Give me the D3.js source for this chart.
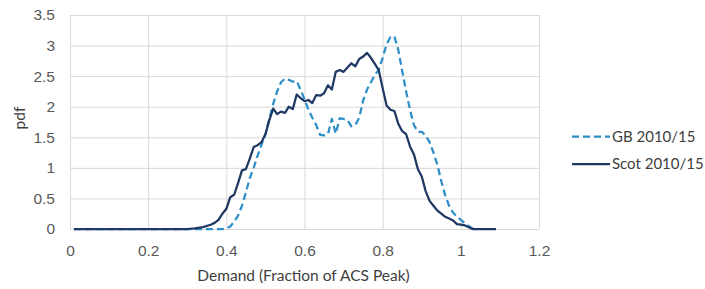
<!DOCTYPE html>
<html>
<head>
<meta charset="utf-8">
<script src="https://cdn.jsdelivr.net/npm/d3@7"></script>
<style>
  body { margin: 0; background: #fff; }
  svg { display: block; font-family: Lato, "Open Sans", sans-serif; }
  .tick text { fill: #595959; font-size: 15.5px; }
  .axis-label { fill: #404040; font-size: 15.5px; }
  .legend-text { fill: #404040; font-size: 15px; }
</style>
</head>
<body>
<svg width="705" height="289"></svg>
<script>
// Tick values
const xTicks = [0, 0.2, 0.4, 0.6, 0.8, 1, 1.2];
const yTicks = [0, 0.5, 1, 1.5, 2, 2.5, 3, 3.5];

// GB 2010/15 (dashed)
const gbX = [0.01, 0.39, 0.40, 0.41, 0.42, 0.43, 0.44, 0.45, 0.46, 0.47, 0.48, 0.49,
  0.50, 0.51, 0.52, 0.53, 0.54, 0.55, 0.56, 0.57, 0.58, 0.59,
  0.60, 0.61, 0.62, 0.63, 0.64, 0.65, 0.66, 0.67, 0.68, 0.69,
  0.70, 0.71, 0.72, 0.73, 0.74, 0.75, 0.76, 0.77, 0.78, 0.79,
  0.80, 0.81, 0.82, 0.83, 0.84, 0.85, 0.86, 0.87, 0.88, 0.89,
  0.90, 0.91, 0.92, 0.93, 0.94, 0.95, 0.96, 0.97, 0.98, 0.99,
  1.00, 1.01, 1.02, 1.03, 1.04];
const gbY = [0, 0, 0.01, 0.04, 0.12, 0.22, 0.38, 0.60, 0.83, 1.00, 1.20, 1.38,
  1.55, 1.80, 2.05, 2.25, 2.40, 2.46, 2.44, 2.41, 2.42, 2.28,
  2.12, 1.95, 1.82, 1.70, 1.54, 1.53, 1.55, 1.80, 1.56, 1.81,
  1.80, 1.78, 1.68, 1.70, 1.82, 2.10, 2.28, 2.40, 2.52, 2.60,
  2.80, 3.02, 3.14, 3.15, 2.93, 2.58, 2.25, 1.95, 1.70, 1.59,
  1.59, 1.53, 1.42, 1.25, 1.05, 0.78, 0.55, 0.38, 0.27, 0.20,
  0.15, 0.10, 0.05, 0.01, 0];

// Scot 2010/15 (solid)
const scotX = [0.01, 0.30, 0.32, 0.34, 0.36, 0.37, 0.38, 0.39,
  0.40, 0.41, 0.42, 0.43, 0.44, 0.45, 0.46, 0.47, 0.48, 0.49,
  0.50, 0.51, 0.52, 0.53, 0.54, 0.55, 0.56, 0.57, 0.58, 0.59,
  0.60, 0.61, 0.62, 0.63, 0.64, 0.65, 0.66, 0.67, 0.68, 0.69,
  0.70, 0.71, 0.72, 0.73, 0.74, 0.75, 0.76, 0.77, 0.78, 0.79,
  0.80, 0.81, 0.82, 0.83, 0.84, 0.85, 0.86, 0.87, 0.88, 0.89,
  0.90, 0.91, 0.92, 0.93, 0.94, 0.95, 0.96, 0.97, 0.98, 0.99,
  1.00, 1.01, 1.02, 1.03, 1.09];
const scotY = [0, 0, 0.01, 0.03, 0.07, 0.10, 0.15, 0.25,
  0.33, 0.52, 0.56, 0.75, 0.96, 0.98, 1.15, 1.34, 1.37, 1.42,
  1.55, 1.78, 1.97, 1.88, 1.92, 1.90, 2.00, 1.96, 2.20, 2.14,
  2.09, 2.11, 2.06, 2.19, 2.18, 2.22, 2.35, 2.28, 2.57, 2.60,
  2.57, 2.64, 2.71, 2.66, 2.78, 2.82, 2.88, 2.80, 2.70, 2.60,
  2.30, 2.02, 1.95, 1.93, 1.72, 1.60, 1.55, 1.35, 1.22, 0.98,
  0.86, 0.62, 0.46, 0.38, 0.30, 0.25, 0.20, 0.17, 0.14, 0.08,
  0.07, 0.06, 0.03, 0, 0];

const seriesNames = ["GB 2010/15", "Scot 2010/15"];
const seriesColors = ["#2e8fc8", "#1f3864"];

const svg = d3.select("svg");
const margin = { top: 15, right: 166, bottom: 60, left: 70 };
const width = 705 - margin.left - margin.right;
const height = 289 - margin.top - margin.bottom;

const g = svg.append("g").attr("transform", `translate(${margin.left},${margin.top})`);

const x = d3.scaleLinear().domain([0, 1.2]).range([0, width]);
const y = d3.scaleLinear().domain([0, 3.5]).range([height, 0]);

const fmt = d => String(+d.toFixed(1));

// Gridlines + axes
const xAxis = g.append("g")
  .attr("transform", `translate(0,${height})`)
  .call(d3.axisBottom(x).tickValues(xTicks).tickSize(-height).tickPadding(16).tickFormat(fmt));
const yAxis = g.append("g")
  .call(d3.axisLeft(y).tickValues(yTicks).tickSize(-width).tickPadding(15).tickFormat(fmt));

[xAxis, yAxis].forEach(a => {
  a.select(".domain").remove();
  a.selectAll(".tick line").attr("stroke", "#d9d9d9").attr("stroke-width", 1);
});

// Axis labels
g.append("text")
  .attr("class", "axis-label")
  .attr("x", (x(0) + x(1.2)) / 2 - 1)
  .attr("y", height + 52)
  .attr("text-anchor", "middle")
  .text("Demand (Fraction of ACS Peak)");

g.append("text")
  .attr("class", "axis-label")
  .attr("transform", "rotate(-90)")
  .attr("x", -(118 - margin.top))
  .attr("y", -50)
  .attr("dy", "0.35em")
  .attr("text-anchor", "middle")
  .text("pdf");

// Lines
const line = d3.line()
  .x(d => x(d[0]))
  .y(d => y(d[1]));

const gbData = gbX.map((v, i) => [v, gbY[i]]);
const scotData = scotX.map((v, i) => [v, scotY[i]]);

g.append("path")
  .datum(gbData)
  .attr("fill", "none")
  .attr("stroke", seriesColors[0])
  .attr("stroke-width", 2.25)
  .attr("stroke-dasharray", "7,4")
  .attr("stroke-linejoin", "round")
  .attr("d", line);

g.append("path")
  .datum(scotData)
  .attr("fill", "none")
  .attr("stroke", seriesColors[1])
  .attr("stroke-width", 2.25)
  .attr("stroke-linejoin", "round")
  .attr("d", line);

// Legend
const legend = svg.append("g").attr("transform", "translate(572,0)");
const legendY = [136.5, 164];
seriesNames.forEach((name, i) => {
  legend.append("line")
    .attr("x1", 0).attr("x2", 38)
    .attr("y1", legendY[i]).attr("y2", legendY[i])
    .attr("stroke", seriesColors[i])
    .attr("stroke-width", 2.25)
    .attr("stroke-dasharray", i === 0 ? "7,4" : null);
  legend.append("text")
    .attr("class", "legend-text")
    .attr("x", 40)
    .attr("y", legendY[i])
    .attr("dy", "0.35em")
    .text(name);
});
</script>
</body>
</html>
